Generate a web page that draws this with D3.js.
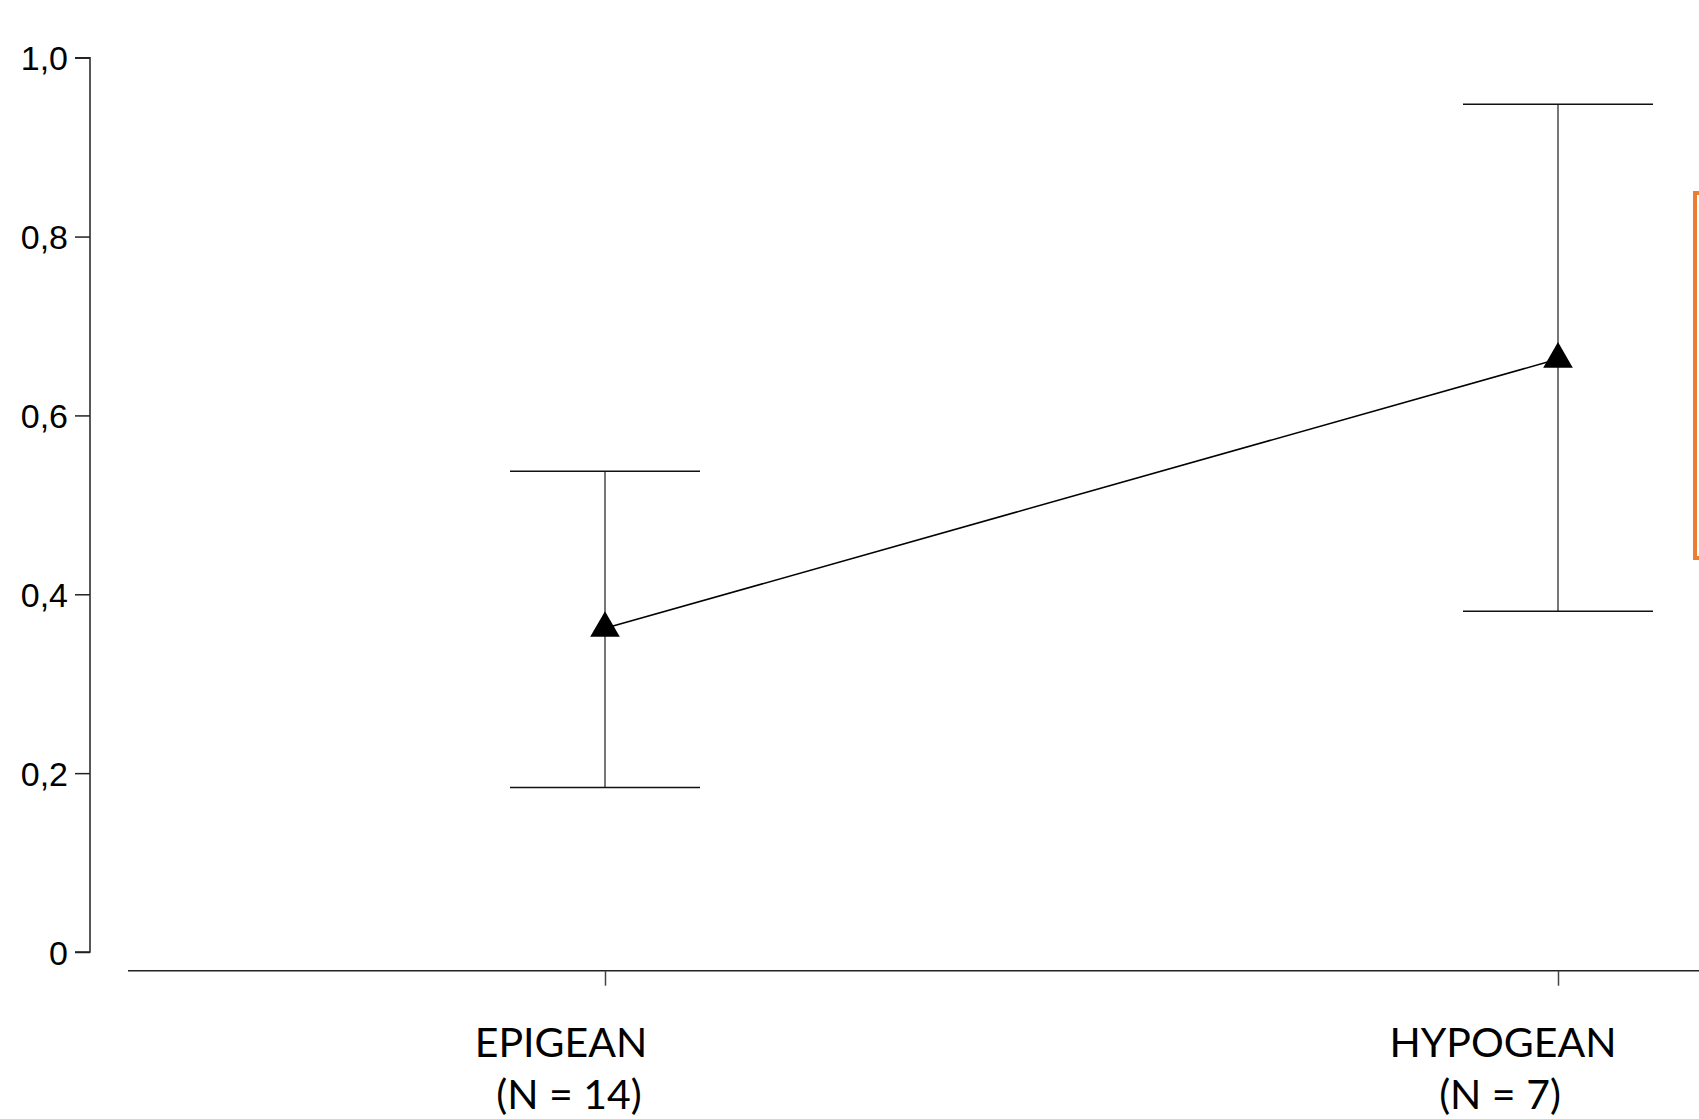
<!DOCTYPE html>
<html>
<head>
<meta charset="utf-8">
<script src="https://cdn.jsdelivr.net/npm/d3@7"></script>
<style>
  body { margin: 0; background: #fff; }
  svg { display: block; }
</style>
</head>
<body>
<svg id="chart" width="1699" height="1119"></svg>
<script>
// data
var groups = ["EPIGEAN", "HYPOGEAN"]
var groupN = ["(N = 14)", "(N = 7)"]
var means = [0.362, 0.663]
var upper = [0.5375, 0.948]
var lower = [0.184, 0.381]
var yTicks = [0, 0.2, 0.4, 0.6, 0.8, 1.0]

var svg = d3.select("#chart")

var x = d3.scalePoint().domain(groups).range([605, 1558])
var y = d3.scaleLinear().domain([0, 1]).range([952, 57.7])

// y axis
var yAxis = d3.axisLeft(y)
    .tickValues(yTicks)
    .tickSize(15)
    .tickPadding(7)
    .tickFormat(d => d === 0 ? "0" : d3.format(".1f")(d).replace(".", ","))

var gy = svg.append("g").attr("transform", "translate(90,0)").call(yAxis)
gy.attr("font-size", null).attr("font-family", null)
gy.select(".domain").attr("d", `M-15,${y(1)}H0V${y(0)}H-15`).attr("stroke", "#222").attr("stroke-width", 1.5)
gy.selectAll(".tick line").attr("stroke", "#222").attr("stroke-width", 1.5)
gy.selectAll(".tick text")
    .style("font-family", "'Liberation Sans', Arial, sans-serif")
    .style("font-size", "34px")
    .attr("dy", "0.36em")
    .attr("fill", "#000")

// x axis
var xAxis = d3.axisBottom(x).tickSize(15).tickFormat("")
var gx = svg.append("g").attr("transform", "translate(0,970.7)").call(xAxis)
gx.select(".domain").attr("d", "M128,0H1699").attr("stroke", "#222").attr("stroke-width", 1.5)
gx.selectAll(".tick line").attr("stroke", "#444").attr("stroke-width", 1.5)

// category labels (two lines)
var labels = svg.append("g").selectAll("text")
    .data(groups)
    .enter().append("text")
    .attr("text-anchor", "middle")
    .style("font-family", "Lato, Carlito, sans-serif")
    .style("font-size", "41px")
    .attr("fill", "#000")

labels.append("tspan")
    .attr("x", (d, i) => x(d) - (i == 0 ? 44 : 55))
    .attr("y", 1056.7)
    .text(d => d)
labels.append("tspan")
    .attr("x", (d, i) => x(d) - (i == 0 ? 36 : 58))
    .attr("y", 1109)
    .text((d, i) => groupN[i])

// error bars
var bars = svg.append("g")
groups.forEach(function (g, i) {
    bars.append("line")
        .attr("x1", x(g)).attr("x2", x(g))
        .attr("y1", y(upper[i])).attr("y2", y(lower[i]))
        .attr("stroke", "#555").attr("stroke-width", 1.6)
    bars.append("line")
        .attr("x1", x(g) - 95).attr("x2", x(g) + 95)
        .attr("y1", y(upper[i])).attr("y2", y(upper[i]))
        .attr("stroke", "#111").attr("stroke-width", 1.6)
    bars.append("line")
        .attr("x1", x(g) - 95).attr("x2", x(g) + 95)
        .attr("y1", y(lower[i])).attr("y2", y(lower[i]))
        .attr("stroke", "#111").attr("stroke-width", 1.6)
})

// mean line
var line = d3.line().x((d, i) => x(groups[i])).y(d => y(d))
svg.append("path")
    .datum(means)
    .attr("d", line)
    .attr("fill", "none")
    .attr("stroke", "#000")
    .attr("stroke-width", 1.5)

// triangle markers
svg.append("g").selectAll("path")
    .data(means)
    .enter().append("path")
    .attr("d", d3.symbol().type(d3.symbolTriangle).size(380))
    .attr("transform", (d, i) => `translate(${x(groups[i])},${y(d)})`)
    .attr("fill", "#000")

// orange box cut off at right edge
svg.append("rect")
    .attr("x", 1695).attr("y", 193)
    .attr("width", 60).attr("height", 365)
    .attr("fill", "none")
    .attr("stroke", "#ED7D31")
    .attr("stroke-width", 4)
</script>
</body>
</html>
